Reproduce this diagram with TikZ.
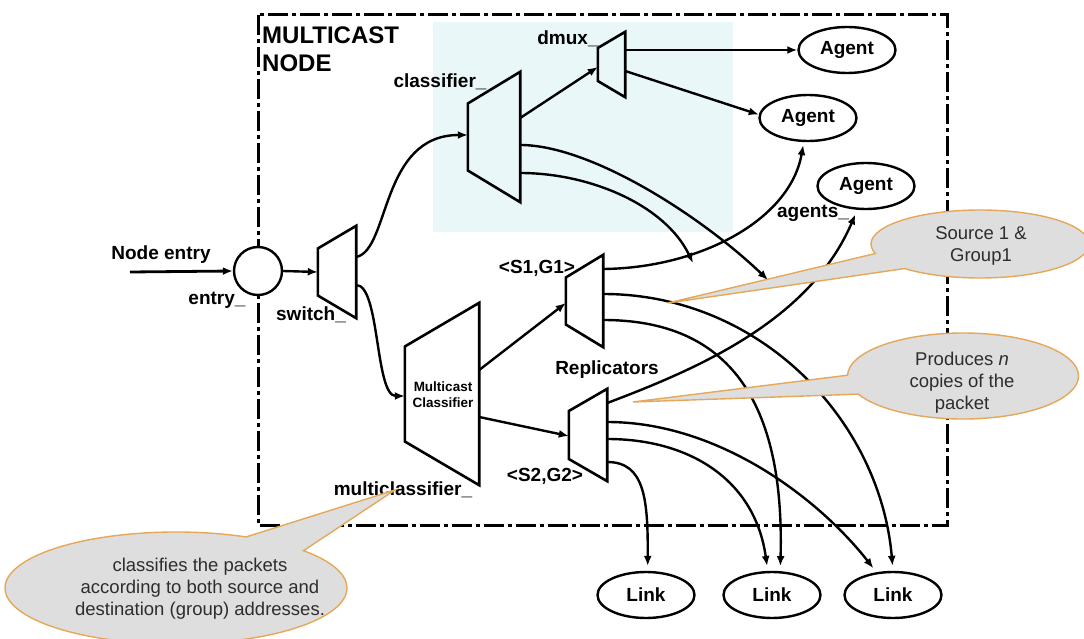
\documentclass[tikz,border=0pt]{standalone}
\usepackage{fontspec}
\setmainfont{Liberation Sans}
\usetikzlibrary{shapes.geometric,shapes.callouts,calc,arrows.meta}

\definecolor{zone}{RGB}{234,247,249}
\definecolor{bubble}{RGB}{222,222,222}
\definecolor{bubbleedge}{RGB}{228,168,88}
\definecolor{bubbletext}{RGB}{45,45,45}

\tikzset{
  blockline/.style={line width=2.6pt},
  conn/.style={line width=2.4pt, -{Latex[length=10pt,width=8pt]}},
  lbl/.style={font=\bfseries\fontsize{19}{22}\selectfont, inner sep=0pt},
  titlelbl/.style={font=\bfseries\fontsize{24}{28}\selectfont, inner sep=0pt},
  smalllbl/.style={font=\bfseries\fontsize{13.5}{16}\selectfont, inner sep=0pt, align=center},
  endpoint/.style={ellipse, draw, line width=2.4pt, fill=white, minimum width=97pt,
    minimum height=46pt, inner sep=0pt, font=\bfseries\fontsize{19}{22}\selectfont},
  bubble/.style={ellipse callout, draw=bubbleedge, fill=bubble, line width=1.4pt,
    inner sep=0pt, callout pointer arc=30},
  bubbletxt/.style={text=bubbletext, font=\fontsize{18.5}{22}\selectfont, align=center, inner sep=0pt},
  border/.style={line width=3pt, dash pattern=on 20pt off 4pt on 4pt off 4pt},
}

% trapezoid block: name, centre x, centre y, width, height of wide side, half height of narrow side
\newcommand\trapblock[6]{%
  \node[inner sep=0pt, minimum width=#4pt, minimum height=#5pt] (#1) at (#2,#3) {};
  \draw[blockline] (#1.north east) -- (#1.south east)
    -- ($(#1.west)+(0pt,-#6pt)$) -- ($(#1.west)+(0pt,#6pt)$) -- cycle;
}

\begin{document}
\begin{tikzpicture}[x=1pt,y=-1pt]
\useasboundingbox (0,0) rectangle (1084,639);

% unicast part of the node
\fill[zone] (433,22) rectangle (733,232);

% node boundary
\draw[border] (258,15) rectangle (947,525);

\node[titlelbl, anchor=base west] (title1) at (262,43.5) {MULTICAST};
\node[titlelbl, anchor=base west] (title2) at (262,71.5) {NODE};

% entry point
\node[circle, draw, line width=2.4pt, fill=white, minimum size=48pt, inner sep=0pt] (entry) at (258,271) {};
\coordinate (src) at (130,272);
\node[lbl, anchor=base] (entrytxt) at (161,259) {Node entry};
\node[lbl, anchor=base] (entrylbl) at (217,304) {entry\_};

% classifiers and replicators
\trapblock{switch}{337}{272}{38}{92}{23.5}
\trapblock{cls}{494}{137}{52}{130}{33.5}
\trapblock{dmux}{611.5}{64.5}{27}{65}{16.5}
\trapblock{mcls}{442}{394}{74}{182}{47.5}
\trapblock{repa}{584.5}{301}{37}{92}{23.5}
\trapblock{repb}{588}{435}{38}{92}{24}

\node[lbl, anchor=base] (switchlbl) at (311,320) {switch\_};
\node[lbl, anchor=base] (clslbl) at (440,88) {classifier\_};
\node[lbl, anchor=base] (dmuxlbl) at (568,45) {dmux\_};
\node[smalllbl] (mclstxt) at (443,395) {Multicast\\Classifier};
\node[lbl, anchor=base] (mclslbl) at (403,495) {multiclassifier\_};
\node[lbl, anchor=base] (repalbl) at (537,273) {<S1,G1>};
\node[lbl, anchor=base] (repblbl) at (545,481) {<S2,G2>};
\node[lbl, anchor=base] (replbl) at (607,374) {Replicators};

% agents and links
\node[endpoint] (ag1) at (847,50) {Agent};
\node[endpoint] (ag2) at (808,118) {Agent};
\node[endpoint] (ag3) at (866,186) {Agent};
\node[lbl, anchor=base] (aglbl) at (813,218) {agents\_};
\node[endpoint] (lk1) at (646,595) {Link};
\node[endpoint] (lk2) at (772,595) {Link};
\node[endpoint] (lk3) at (893,595) {Link};

% connectors
\draw[conn, line width=2.8pt] (src) -- (entry.west);
\draw[conn] (entry.east) -- (switch.west);
\draw[conn] (switch.east |- 0,257) .. controls (390,250) and (380,135) .. (cls.west |- 0,135);
\draw[conn] (switch.east |- 0,285) .. controls (380,285) and (375,396) .. (mcls.west |- 0,396);

\draw[conn] (cls.east |- 0,118) -- (dmux.west |- 0,67);
\draw[conn] (dmux.east |- ag1.west) -- (ag1.west);
\draw[conn] (dmux.east |- 0,71) -- (ag2.176);
\coordinate (fwda) at (768,280);
\coordinate (fwdb) at (693,263);
\draw[conn] (cls.east |- 0,145) .. controls (590,145) and (700,215) .. (fwda);
\draw[conn] (cls.east |- 0,173) .. controls (590,173) and (665,205) .. (fwdb);

\draw[conn] (mcls.east |- 0,370) -- (repa.west |- 0,303);
\draw[conn] (mcls.east |- 0,417) -- (repb.west |- 0,436);

\draw[conn, shorten >=3pt] (repa.east |- 0,269) .. controls (700,268) and (790,220) .. (ag2.260);
\draw[conn, shorten >=5pt] (repa.east |- 0,294) .. controls (760,294) and (880,420) .. (lk3.north);
\draw[conn, shorten >=5pt] (repa.east |- 0,320) .. controls (720,320) and (785,390) .. (lk2.71);

\draw[conn, shorten >=5pt] (repb.east |- 0,403) .. controls (700,368) and (810,320) .. (ag3.250);
\draw[conn, shorten >=5pt] (repb.east |- 0,422) .. controls (720,422) and (820,500) .. (lk3.126);
\draw[conn, shorten >=5pt] (repb.east |- 0,439) .. controls (690,439) and (755,480) .. (lk2.100);
\draw[conn, shorten >=5pt] (repb.east |- 0,462) .. controls (645,462) and (648,500) .. (lk1.86);

% notes
\coordinate (tipa) at (668,303);
\coordinate (tipb) at (633,402);
\coordinate (tipc) at (395,490);
\node[bubble, callout pointer arc=30, minimum width=218pt, minimum height=68pt, callout absolute pointer=(tipa)] (notea) at (980,244) {};
\node[bubbletxt] (noteatxt) at (981,246) {Source 1 \&\\Group1};
\node[bubble, callout pointer arc=26, minimum width=231pt, minimum height=86pt, callout absolute pointer=(tipb)] (noteb) at (963,376) {};
\node[bubbletxt] (notebtxt) at (962,383) {Produces \textit{n}\\copies of the\\packet};
\node[bubble, callout pointer arc=24, minimum width=342pt, minimum height=112pt, callout absolute pointer=(tipc)] (notec) at (176,588) {};
\node[bubbletxt] (notectxt) at (200,589) {classifies the packets\\according to both source and\\destination (group) addresses.};
\end{tikzpicture}
\end{document}
